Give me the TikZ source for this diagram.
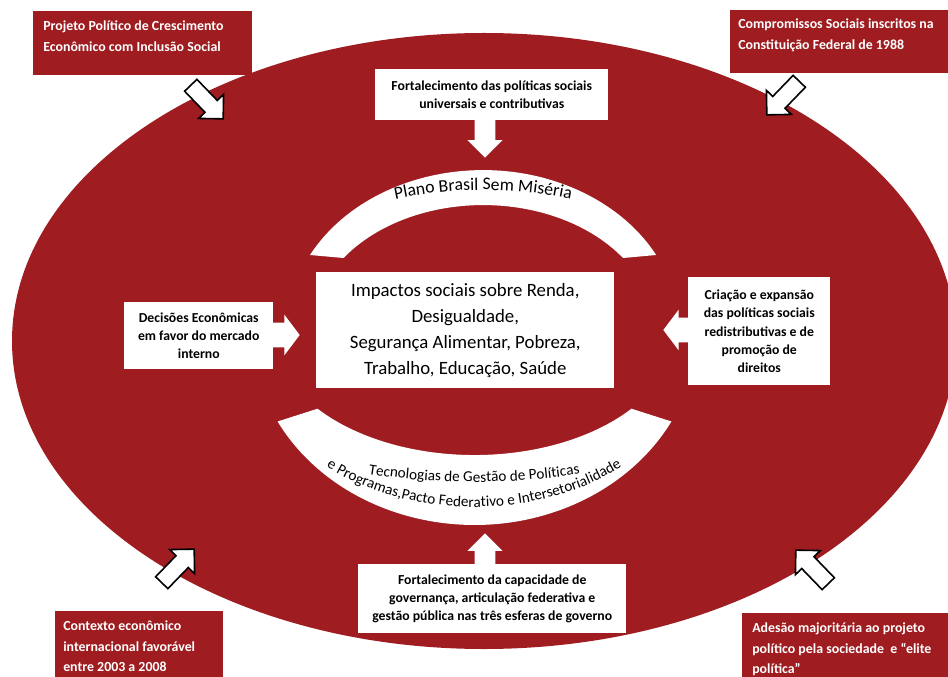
\documentclass[tikz,border=0pt]{standalone}
\usepackage{fontspec}
\setmainfont{Carlito}
\usetikzlibrary{shapes.arrows,decorations.text}
\definecolor{vinho}{RGB}{159,29,33}

\tikzset{
  caixaVinho/.style={fill=vinho, anchor=north west, inner sep=0pt},
  textoVinho/.style={text=white, anchor=north west, inner sep=0pt, align=left, font=\bfseries\fontsize{10.4}{15.6}\selectfont},
  caixaBranca/.style={fill=white, anchor=north west, inner sep=0pt, align=center, font=\bfseries\fontsize{10.3}{13.6}\selectfont},
  setaBorda/.style={single arrow, draw=black, line width=1.2pt, fill=white, inner xsep=0pt, inner ysep=5.8pt, single arrow head extend=6.6pt, minimum height=35pt, minimum width=0pt},
  setaVertical/.style={single arrow, fill=white, inner xsep=0pt, inner ysep=7.5pt, single arrow head extend=5.5pt, minimum height=28.5pt, minimum width=0pt, anchor=tip},
  setaLateral/.style={single arrow, fill=white, inner xsep=0pt, inner ysep=9pt, single arrow head extend=6pt, single arrow tip angle=106, minimum height=30pt, minimum width=0pt, anchor=tip}
}

\begin{document}
\begin{tikzpicture}[x=0.75pt,y=-0.75pt]
\useasboundingbox (0,0) rectangle (948,677);
\clip (0,0) rectangle (948,677);

%Shape: Ellipse
\fill[vinho] (484,341) ellipse [x radius=472, y radius=308];

%Shape: Block Arc (top)
\fill[white] (310,255) arc[start angle=208, end angle=332, x radius=196, y radius=160] -- (623,258) arc[start angle=324.8, end angle=215.2, x radius=171, y radius=125] -- cycle;
%Shape: Block Arc (bottom)
\fill[white] (277.6,421.5) arc[start angle=152, end angle=28, x radius=223, y radius=195] -- (631.5,408.7) arc[start angle=39, end angle=141, x radius=202, y radius=125] -- cycle;

% Curved Text
\path[decorate, decoration={text along path, text align=center, text={|\fontsize{13.3}{14}\selectfont|Plano Brasil Sem Miséria}}] (483,330) ++(200:247 and 140) arc[start angle=200, end angle=340, x radius=247, y radius=140];
\path[decorate, decoration={text along path, text align=center, text={|\fontsize{11.4}{12}\selectfont|Tecnologias de Gestão de Políticas}}] (474,330) ++(160:330 and 152) arc[start angle=160, end angle=20, x radius=330, y radius=152];
\path[decorate, decoration={text along path, text align=center, text={|\fontsize{11.4}{12}\selectfont|e Programas,Pacto Federativo e Intersetorialidade}}] (474,330) ++(168:233 and 177) arc[start angle=168, end angle=12, x radius=233, y radius=177];

%Block Arrows (inside)
\node[setaVertical, rotate=-90] (setaTopo) at (485,158) {};
\node[setaVertical, rotate=90] (setaBase) at (485,533) {};
\node[setaLateral] (setaEsq) at (300,335) {};
\node[setaLateral, rotate=180] (setaDir) at (663,330) {};

% White Boxes
\node[caixaBranca, minimum width=174.75pt, minimum height=38.25pt] (universais) at (375,69) {Fortalecimento das políticas sociais\\universais e contributivas};
\node[caixaBranca, font=\fontsize{14.1}{19.5}\selectfont, minimum width=223.5pt, minimum height=87pt] (impactos) at (316,272) {Impactos sociais sobre Renda,\\Desigualdade,\\Segurança Alimentar, Pobreza,\\Trabalho, Educação, Saúde};
\node[caixaBranca, minimum width=111.75pt, minimum height=50.25pt] (decisoes) at (124,302) {Decisões Econômicas\\em favor do mercado\\interno};
\node[caixaBranca, minimum width=106.5pt, minimum height=81pt] (criacao) at (688,277) {Criação e expansão\\das políticas sociais\\redistributivas e de\\promoção de\\direitos};
\node[caixaBranca, minimum width=201pt, minimum height=51.75pt] (governanca) at (358,564) {Fortalecimento da capacidade de\\governança, articulação federativa e\\gestão pública nas três esferas de governo};

% Red Boxes
\node[caixaVinho, minimum width=164.25pt, minimum height=48pt] (projeto) at (33,11) {};
\node[textoVinho] (projetoTexto) at (43,15.5) {\strut Projeto Político de Crescimento\\Econômico com Inclusão Social};
\node[caixaVinho, minimum width=172.5pt, minimum height=47.25pt] (compromissos) at (730,10) {};
\node[textoVinho] (compromissosTexto) at (738,13.5) {\strut Compromissos Sociais inscritos na\\Constituição Federal de 1988};
\node[caixaVinho, minimum width=126pt, minimum height=51.75pt] (contexto) at (55,611) {};
\node[textoVinho] (contextoTexto) at (63,615.5) {\strut Contexto econômico\\internacional favorável\\entre 2003 a 2008};
\node[caixaVinho, minimum width=161.25pt, minimum height=52.5pt] (adesao) at (742,613) {};
\node[textoVinho] (adesaoTexto) at (752,617.5) {\strut Adesão majoritária ao projeto\\político pela sociedade \ e “elite\\política”};

%Block Arrows (outline)
\node[setaBorda, rotate=-46] (setaProjeto) at (204,99) {};
\node[setaBorda, rotate=-134] (setaCompromissos) at (786,95) {};
\node[setaBorda, rotate=46] (setaContexto) at (175,569) {};
\node[setaBorda, rotate=134] (setaAdesao) at (815,570) {};

\end{tikzpicture}
\end{document}
